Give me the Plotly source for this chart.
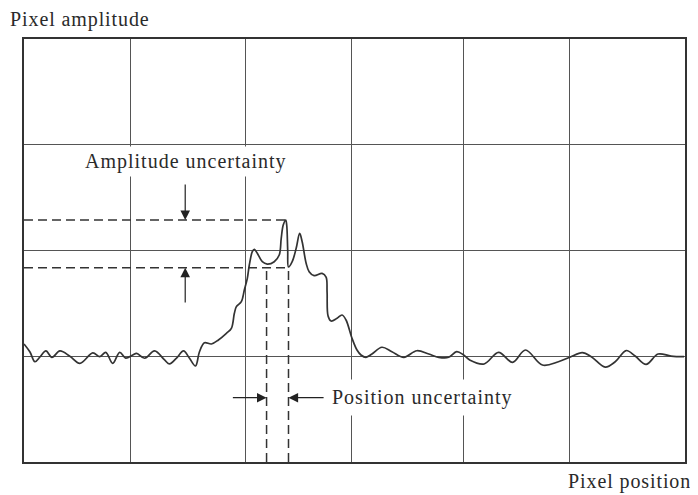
import plotly.graph_objects as go

# ---- data (pixel position vs. pixel amplitude, grid units) ----
position = [0, 6, 11, 16, 22, 28, 36, 46, 56, 69, 76, 82, 89, 96, 102, 109, 113,
            121, 131, 141, 146, 153, 160, 166, 172, 176, 181, 188, 195, 203, 208,
            211, 213, 218, 221, 224, 226, 229, 231, 234, 239, 244, 251, 256, 258,
            260, 262.5, 263.5, 264.5, 265.3, 269, 273, 276.5, 279, 283, 286, 291,
            299, 303, 304, 305, 308, 314, 319, 323, 329, 334, 338, 343, 349, 359,
            369, 381, 394, 406, 416, 426, 434, 441, 447, 461.5, 476, 490, 503, 520,
            536, 548, 560, 569, 583, 593, 604, 613, 624, 636, 649, 662]
amplitude = [1.116, 1.04, 0.948, 0.993, 1.05, 0.99, 1.05, 1.0, 0.933, 1.031, 0.996,
             1.037, 0.933, 1.037, 0.983, 1.012, 1.028, 0.981, 1.05, 0.965, 0.927,
             0.983, 1.05, 0.981, 0.908, 1.043, 1.128, 1.116, 1.154, 1.217, 1.264,
             1.406, 1.469, 1.516, 1.626, 1.737, 1.863, 1.989, 2.011, 1.974, 1.894,
             1.872, 1.894, 1.957, 2.115, 2.241, 2.288, 2.241, 2.005, 1.844, 1.894,
             2.021, 2.161, 2.083, 1.879, 1.8, 1.762, 1.784, 1.749, 1.608, 1.381,
             1.333, 1.359, 1.39, 1.343, 1.17, 1.059, 1.012, 0.99, 1.021, 1.085,
             1.043, 0.99, 1.052, 1.021, 0.99, 0.99, 1.043, 1.012, 0.965, 0.927,
             1.037, 0.943, 1.059, 0.917, 0.948, 0.993, 1.035, 0.996, 0.898, 0.948,
             1.054, 1.002, 0.924, 1.021, 1.002, 0.996]

x_grid = [107, 222, 328.7, 440.7, 547]
y_grid = [1, 2, 3]
x_range = [0, 663]
y_range = [0, 4]

peak_level = 2.288
lower_level = 1.837
pos_left = 243.3
pos_right = 265.3
peak_pos = 262.5

amp_arrow_x = 161.7
amp_arrow_tail_top = 2.638
amp_arrow_tail_bottom = 1.494
pos_arrow_y = 0.608
pos_arrow_tail_left = 208
pos_arrow_tail_right = 302

FONT = "Liberation Serif"
TXT = "#2a2a2a"
LINE = "#333333"
GRID = "#555555"


def spaced(t, ls=1.0):
    return f'<span style="letter-spacing:{ls}px">{t}</span>'


fig = go.Figure()

fig.add_trace(go.Scatter(
    x=position, y=amplitude, mode="lines",
    line=dict(color=LINE, width=1.7, shape="spline", smoothing=1.0),
    hoverinfo="skip", showlegend=False))

dash = dict(color=LINE, width=1.5, dash="9px,5px")
# horizontal dashed levels
fig.add_trace(go.Scatter(x=[x_range[0], peak_pos], y=[peak_level, peak_level],
                         mode="lines", line=dash, showlegend=False, hoverinfo="skip"))
fig.add_trace(go.Scatter(x=[x_range[0], pos_right], y=[lower_level, lower_level],
                         mode="lines", line=dash, showlegend=False, hoverinfo="skip"))
# vertical dashed positions
for xp in [pos_left, pos_right]:
    fig.add_trace(go.Scatter(x=[xp, xp], y=[y_range[0], lower_level],
                             mode="lines", line=dash, showlegend=False, hoverinfo="skip"))

arrow_common = dict(xref="x", yref="y", axref="x", ayref="y", text="",
                    showarrow=True, arrowhead=2, arrowsize=1.6, arrowwidth=1.2,
                    arrowcolor="#222222", standoff=0, startstandoff=0)

annotations = [
    dict(x=amp_arrow_x, y=peak_level, ax=amp_arrow_x, ay=amp_arrow_tail_top, **arrow_common),
    dict(x=amp_arrow_x, y=lower_level, ax=amp_arrow_x, ay=amp_arrow_tail_bottom, **arrow_common),
    dict(x=pos_left, y=pos_arrow_y, ax=pos_arrow_tail_left, ay=pos_arrow_y, **arrow_common),
    dict(x=pos_right, y=pos_arrow_y, ax=pos_arrow_tail_right, ay=pos_arrow_y, **arrow_common),
    dict(x=162, y=2.837, xref="x", yref="y", text=spaced("Amplitude uncertainty"),
         showarrow=False, bgcolor="white", borderpad=3,
         font=dict(family=FONT, size=20, color=TXT)),
    dict(x=399.5, y=0.608, xref="x", yref="y", text=spaced("Position uncertainty"),
         showarrow=False, bgcolor="white", borderpad=6,
         font=dict(family=FONT, size=20, color=TXT)),
    dict(x=-0.0241, y=1.047, xref="paper", yref="paper", xanchor="left", yanchor="middle",
         text=spaced("Pixel amplitude", 0.9), showarrow=False,
         font=dict(family=FONT, size=20, color=TXT)),
    dict(x=1.0116, y=-0.047, xref="paper", yref="paper", xanchor="right", yanchor="middle",
         text=spaced("Pixel position", 0.9), showarrow=False,
         font=dict(family=FONT, size=20, color=TXT)),
]

# the page body has an 8px margin, so the figure is sized to fit the window
fig.update_layout(
    width=690, height=487,
    margin=dict(l=16, r=11, t=31, b=33),
    paper_bgcolor="white", plot_bgcolor="white",
    annotations=annotations,
    xaxis=dict(range=x_range, tickvals=x_grid, showticklabels=False, ticks="",
               showgrid=True, gridcolor=GRID, gridwidth=1.2, zeroline=False,
               showline=True, mirror=True, linecolor=LINE, linewidth=2.2),
    yaxis=dict(range=y_range, tickvals=y_grid, showticklabels=False, ticks="",
               showgrid=True, gridcolor=GRID, gridwidth=1.2, zeroline=False,
               showline=True, mirror=True, linecolor=LINE, linewidth=2.2),
)

fig.write_html("out.html")
